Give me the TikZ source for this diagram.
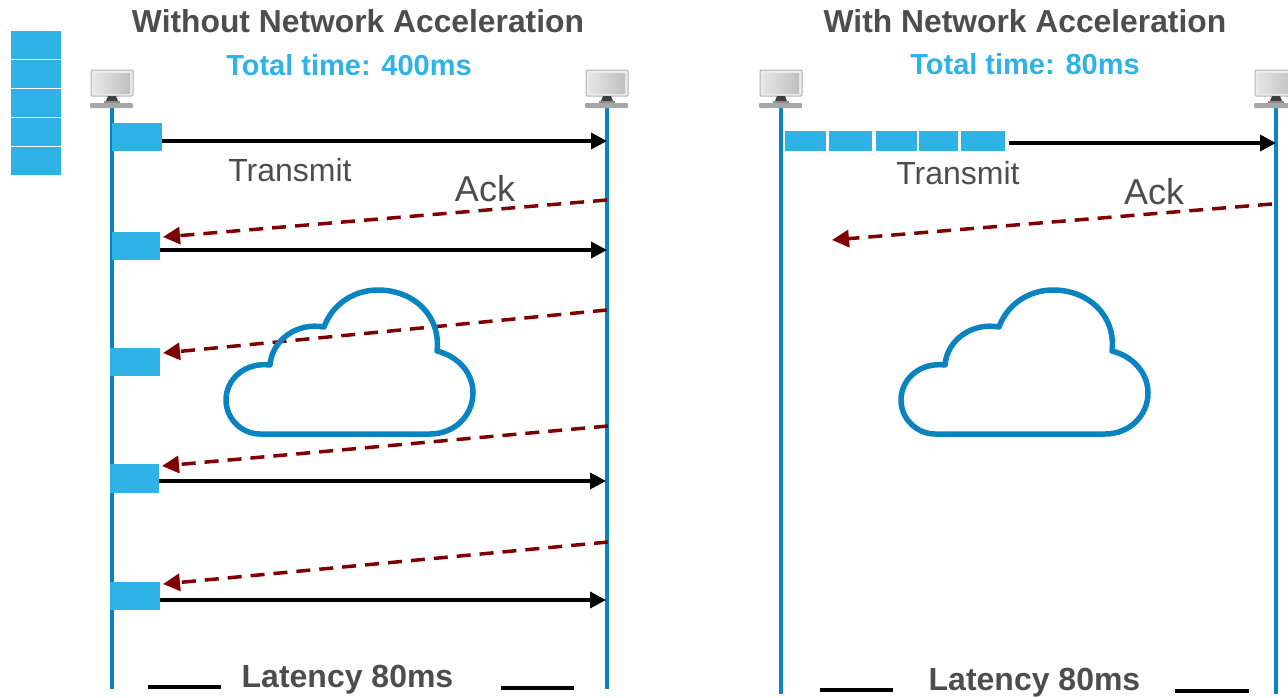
\documentclass[tikz,border=0pt]{standalone}
\usepackage{fontspec}
\usepackage{xcolor}
\setmainfont{Liberation Sans}
\usetikzlibrary{arrows.meta}
\definecolor{blockblue}{HTML}{2FB2E6}
\definecolor{lineblue}{HTML}{0A84C1}
\definecolor{ackred}{HTML}{7F0000}
\definecolor{textgrey}{HTML}{4D4D4D}
\tikzset{
  block/.style={fill=blockblue, draw=none, inner sep=0pt, outer sep=0pt},
  life/.style={lineblue, line width=3.5pt},
  data/.style={black, line width=3.5pt, -{Triangle[length=16pt,width=16pt]}},
  ack/.style={ackred, line width=3.5pt, dash pattern=on 14pt off 9pt, -{Triangle[length=17pt,width=17pt]}},
  bar/.style={black, line width=3.5pt},
  heading/.style={inner sep=0pt, text=textgrey, font=\fontsize{31.8}{36}\selectfont\bfseries},
  total/.style={inner sep=0pt, text=blockblue, font=\fontsize{29}{34}\selectfont\bfseries},
  label/.style={inner sep=0pt, text=textgrey, font=\fontsize{32}{38}\selectfont},
  acklabel/.style={inner sep=0pt, text=textgrey, font=\fontsize{36}{42}\selectfont},
  latency/.style={inner sep=0pt, text=textgrey, font=\fontsize{32}{36}\selectfont\bfseries},
  pics/computer/.style={code={
    % monitor, stand, keyboard
    \draw[rounded corners=1pt, draw=black!30, fill=black!8, line width=1pt] (-21,-19) rectangle (21,7);
    \shade[left color=black!10, right color=black!25] (-18,-16) rectangle (18,4);
    \fill[black!75] (-4,7) -- (4,7) -- (6,12) -- (-6,12) -- cycle;
    \fill[black!45] (-8,12) rectangle (8,14);
    \fill[black!35, rounded corners=1pt] (-22,14) rectangle (21,19);
  }},
  pics/cloud/.style={code={
    \draw[lineblue, line width=5.5pt, line join=round]
      (260,434) -- (430,434)
      .. controls (455,434) and (473,415) .. (473,393)
      .. controls (473,372) and (457,356) .. (437,351)
      .. controls (441,316) and (414,290) .. (378,290)
      .. controls (353,290) and (332,305) .. (324,327)
      .. controls (297,322) and (272,340) .. (270,365)
      .. controls (245,362) and (226,379) .. (226,400)
      .. controls (226,419) and (242,434) .. (260,434) -- cycle;
  }}
}

\begin{document}
\begin{tikzpicture}[x=1pt, y=-1pt]
  \useasboundingbox (0,0) rectangle (1288,697);

  % titles
  \node[heading] (titleA) at (358,21) {Without Network Acceleration};
  \node[heading] (titleB) at (1025,21) {With Network Acceleration};
  \node[total] (totalA) at (349,65) {Total time: 400ms};
  \node[total] (totalB) at (1025,64) {Total time: 80ms};

  % waiting packets
  \foreach \i/\y in {a/45, b/74, c/103, d/132, e/161}
    \node[block, minimum width=50pt, minimum height=27.5pt] (wait\i) at (36,\y) {};

  % life lines
  \foreach \n/\x/\yb in {la/112/689, lb/607/689, ra/781/694, rb/1276/694} {
    \coordinate (\n top) at (\x,100);
    \coordinate (\n bot) at (\x,\yb);
    \draw[life] (\n top) -- (\n bot);
    \pic at (\x,89) {computer};
  }

  % packets on the left
  \node[block, minimum width=50pt, minimum height=28pt] (pkA) at (137,137) {};
  \node[block, minimum width=48pt, minimum height=28pt] (pkB) at (136,246) {};
  \node[block, minimum width=50pt, minimum height=28pt] (pkC) at (135,362) {};
  \node[block, minimum width=49pt, minimum height=29pt] (pkD) at (134.5,478.5) {};
  \node[block, minimum width=50pt, minimum height=28pt] (pkE) at (135,596) {};

  % data arrows
  \coordinate (sA) at (162,141);
  \coordinate (eA) at (607,141);
  \coordinate (sB) at (160,250);
  \coordinate (eB) at (607,250);
  \coordinate (sD) at (159,481);
  \coordinate (eD) at (606,481);
  \coordinate (sE) at (160,600);
  \coordinate (eE) at (606,600);
  \draw[data] (sA) -- (eA);
  \draw[data] (sB) -- (eB);
  \draw[data] (sD) -- (eD);
  \draw[data] (sE) -- (eE);

  % acks
  \foreach \n/\xa/\ya/\xb/\yb in {a/607/200/163/237, b/607/310/163/353, c/608/426/162/466, d/608/542/163/584, e/1272/204/832/240} {
    \coordinate (ack\n s) at (\xa,\ya);
    \coordinate (ack\n e) at (\xb,\yb);
    \draw[ack] (ack\n s) -- (ack\n e);
  }

  % packets on the right
  \foreach \n/\xa/\w in {a/805.5/41, b/850.5/43, c/896/41, d/938.5/39, e/983/44}
    \node[block, minimum width=\w pt, minimum height=20pt] (burst\n) at (\xa,141) {};
  \coordinate (sR) at (1009,143);
  \coordinate (eR) at (1276,143);
  \draw[data] (sR) -- (eR);

  % clouds
  \pic at (0,0) {cloud};
  \pic at (675,0) {cloud};

  % labels
  \node[label] (txA) at (290,170) {Transmit};
  \node[label] (txB) at (958,173) {Transmit};
  \node[acklabel] (ackA) at (485,189) {Ack};
  \node[acklabel] (ackB) at (1154,192) {Ack};

  % latency
  \node[latency] (latA) at (347.5,680) {Latency 80ms};
  \node[latency] (latB) at (1034.5,683) {Latency 80ms};
  \foreach \n/\xa/\xb/\y in {a/148/221/687, b/501/574/688, c/820/893/690, d/1175/1249/691} {
    \coordinate (bar\n s) at (\xa,\y);
    \coordinate (bar\n e) at (\xb,\y);
    \draw[bar] (bar\n s) -- (bar\n e);
  }
\end{tikzpicture}
\end{document}
